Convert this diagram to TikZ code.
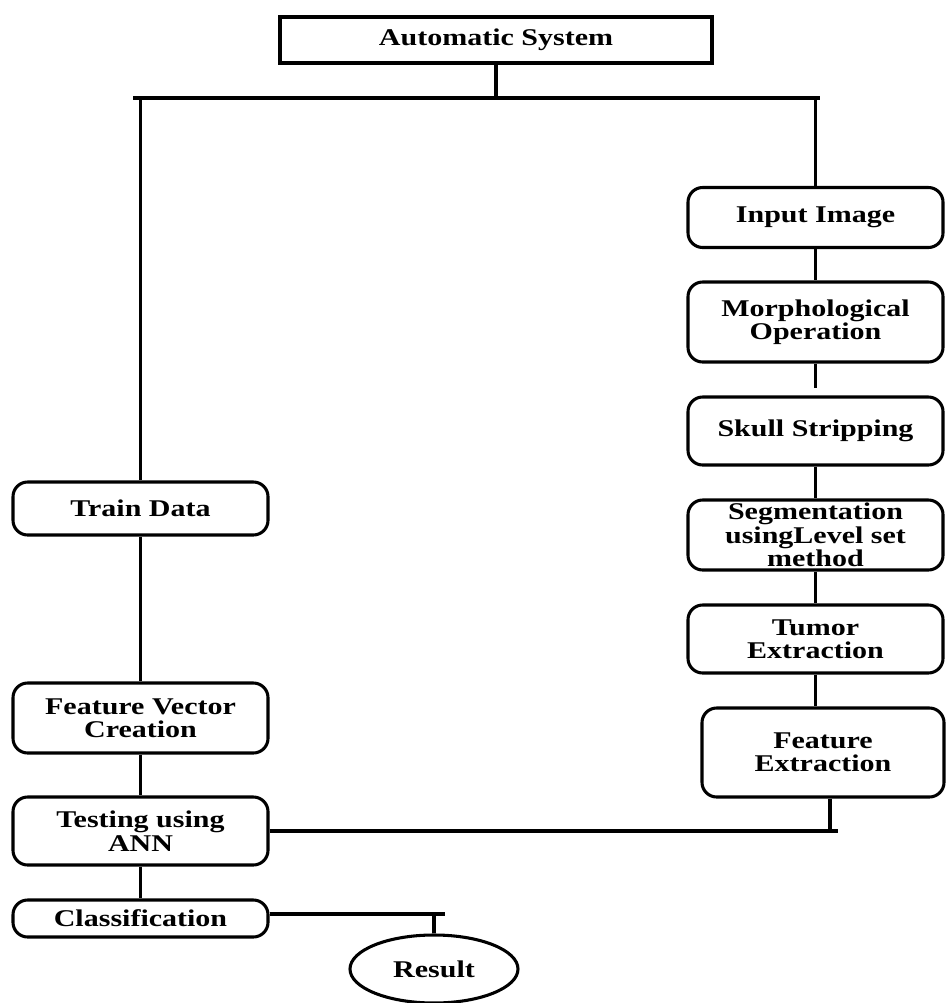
\documentclass[tikz,border=0pt]{standalone}
\usepackage{fontspec}
\setmainfont{Liberation Serif}[FakeStretch=1.25]
\usetikzlibrary{shapes.geometric}
\begin{document}
\begin{tikzpicture}[x=0.75pt,y=-0.75pt,
  base/.style={draw,line width=2.3pt,align=center,inner sep=0pt,
    font=\fontsize{18}{17.5}\selectfont\bfseries},
  sq/.style={base,rectangle},
  rbox/.style={base,rectangle,rounded corners=11pt,minimum width=191.25pt},
  oval/.style={base,ellipse,minimum width=126pt,minimum height=51pt},
  conn/.style={line width=2.3pt}]
\useasboundingbox (0,0) rectangle (946,1003);
% nodes
\node[sq,minimum width=324pt,minimum height=34.5pt] (auto) at (496,40) {Automatic System};
\node[rbox,minimum height=45pt] (input) at (815.5,217.5) {Input Image};
\node[rbox,minimum height=60pt] (morph) at (815.5,322) {Morphological\\Operation};
\node[rbox,minimum height=51pt] (skull) at (815.5,431) {Skull Stripping};
\node[rbox,minimum height=52.5pt] (seg) at (815.5,535) {Segmentation\\usingLevel set\\method};
\node[rbox,minimum height=51pt] (tumor) at (815.5,639) {Tumor\\Extraction};
\node[rbox,minimum width=181.5pt,minimum height=66.75pt] (fext) at (823,752.5) {Feature\\Extraction};
\node[rbox,minimum height=39.75pt] (train) at (140.5,508.5) {Train Data};
\node[rbox,minimum height=52.5pt] (fvc) at (140.5,718) {Feature Vector\\Creation};
\node[rbox,minimum height=51pt] (test) at (140.5,831) {Testing using\\ANN};
\node[rbox,minimum height=27.75pt] (class) at (140.5,918.5) {Classification};
\node[oval] (result) at (434,969) {Result};
% junction coordinates
\coordinate (tl) at (133,98);
\coordinate (tr) at (820,98);
\coordinate (mg) at (815.5,388);
\coordinate (fj) at (830,830);
\coordinate (fr) at (838,830);
\coordinate (cr) at (445,914);
% connectors
\draw[conn] (auto.south) -- (auto.south |- tl);
\draw[conn] (tl) -- (tr);
\draw[conn] (train.north |- tl) -- (train.north);
\draw[conn] (input.north |- tl) -- (input.north);
\draw[conn] (input.south) -- (morph.north);
\draw[conn] (morph.south) -- (mg);
\draw[conn] (skull.south) -- (seg.north);
\draw[conn] (seg.south) -- (tumor.north);
\draw[conn] (tumor.south) -- (tumor.south |- fext.north);
\draw[conn] (fext.south -| fj) -- (fj);
\draw[conn] (test.east) -- (test.east -| fr);
\draw[conn] (train.south) -- (fvc.north);
\draw[conn] (fvc.south) -- (test.north);
\draw[conn] (test.south) -- (class.north);
\draw[conn] (class.east |- cr) -- (cr);
\draw[conn] (result.north) -- (result.north |- cr);
\end{tikzpicture}
\end{document}
